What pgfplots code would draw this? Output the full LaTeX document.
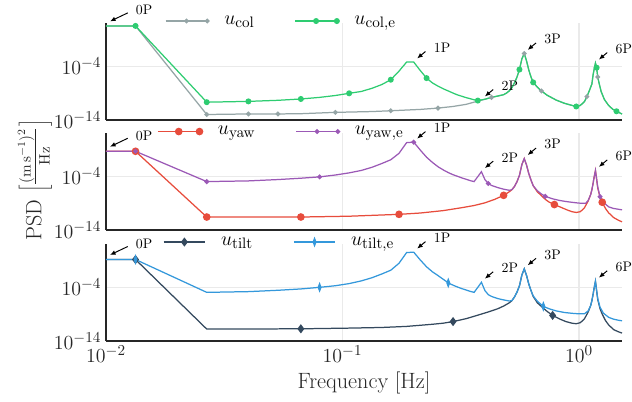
\documentclass[border=0pt]{standalone}
\usepackage{pgfplots}
\pgfplotsset{compat=1.18}
\usetikzlibrary{arrows.meta}
\definecolor{cgray}{HTML}{95A5A6}
\definecolor{cgreen}{HTML}{2ECC71}
\definecolor{cred}{HTML}{E74C3C}
\definecolor{cpurple}{HTML}{9B59B6}
\definecolor{cdark}{HTML}{34495E}
\definecolor{cblue}{HTML}{3498DB}
\definecolor{spine}{HTML}{262626}
\definecolor{gridc}{HTML}{EAEAEA}
\tikzset{ann/.style={-{Latex[length=4pt,width=3.4pt]}, line width=0.7pt, black}}
\pgfplotsset{
  legend image code/.code={\draw[mark repeat=2,mark phase=2,#1] plot coordinates {(0pt,0pt)(15pt,0pt)(30pt,0pt)};},
  every axis/.append style={
    width=372.9pt, height=70pt, scale only axis,
    xmin=0.01, xmax=1.52, ymin=1e-14, ymax=1.26e4,
    xtick={0.01,0.1,1}, ytick={1e-14,1e-4},
    axis x line*=bottom, axis y line*=left,
    axis line style={spine, line width=1.4pt},
    major tick length=0pt, minor tick length=0pt,
    xmajorgrids, ymajorgrids, major grid style={gridc, line width=0.8pt},
    tick label style={font=\fontsize{15}{18}\selectfont, text=spine},
    clip=false,
    legend columns=2,
  },
  every axis legend/.append style={draw=none, fill=none, font=\fontsize{15.5}{18}\selectfont, inner sep=0pt, anchor=west,
      nodes={inner sep=0pt},
      /tikz/every odd column/.append style={column sep=11pt},
      /tikz/every even column/.append style={column sep=29pt}},
}
\newcommand{\annot}[3]{%
  \draw[ann] ([shift={(8.5pt,7.6pt)}]axis cs:#1,#2) -- ([shift={(2.5pt,2.6pt)}]axis cs:#1,#2);
  \node[font=\fontsize{10}{12}\selectfont, text=black] at ([shift={(20.5pt,10.3pt)}]axis cs:#1,#2) {#3};}
\newcommand{\annotz}[1]{%
  \draw[ann] ([shift={(15.7pt,9.4pt)}]axis cs:0.01,#1) -- ([shift={(2.9pt,3.3pt)}]axis cs:0.01,#1);
  \node[font=\fontsize{10}{12}\selectfont, text=black] at ([shift={(27.5pt,11.4pt)}]axis cs:0.01,#1) {0P};}
\begin{document}
\begin{tikzpicture}
% ---------------- panel 1 ----------------
\begin{loglogaxis}[at={(0,0)}, anchor=north west, xticklabels={},
  legend style={at={(0.114,1.02)}}]
\addplot[cgray, line width=0.9pt, mark=*, mark size=1.3pt, mark indices={2,3,4,5,7,9,11,16,26,32,40,47}] table {
0.01 3.55e3
0.01333 3.55e3
0.02667 1e-13
0.04 1.26e-13
0.05333 1.26e-13
0.06667 1.41e-13
0.09333 2.51e-13
0.13333 3.55e-13
0.16 5.01e-13
0.21333 8.91e-13
0.25333 1.58e-12
0.29333 3.16e-12
0.33333 7.94e-12
0.37333 3.16e-11
0.4 7.08e-11
0.42667 1.58e-10
0.45333 2.82e-10
0.48 5.01e-10
0.49333 1e-9
0.50667 2.51e-9
0.52 1e-8
0.53333 7.94e-8
0.54667 1e-6
0.56 2.51e-5
0.57333 2.51e-3
0.58667 2.51e-2
0.6 1e-3
0.61333 2e-5
0.62667 1e-6
0.64 1e-7
0.66667 1.26e-8
0.69333 2.51e-9
0.73333 3.98e-10
0.8 5.01e-11
0.86667 1.26e-11
0.93333 5.01e-12
0.97333 3.16e-12
1.01333 5.01e-12
1.05333 2.51e-11
1.08 2.19e-10
1.10667 3.16e-9
1.13333 5.01e-8
1.14667 2.51e-6
1.16 3.98e-5
1.17333 3.98e-4
1.18667 5.62e-5
1.2 1e-6
1.21333 1e-7
1.24 2e-9
1.28 6.31e-11
1.33333 5.01e-12
1.38667 1e-12
1.44 3.98e-13
1.52 1.26e-13
};
\addlegendentry{$u_{\mathrm{col}}$}
\addplot[cgreen, line width=0.9pt, mark=*, mark size=1.7pt, mark indices={2,3,4,6,9,13,18,29,39,45,52,61,68}] table {
0.01 3.55e3
0.01333 3.55e3
0.02667 2e-11
0.04 2.82e-11
0.05333 4.47e-11
0.06667 7.94e-11
0.08 1.58e-10
0.09333 3.55e-10
0.10667 9.1e-10
0.12 2e-9
0.13333 7.94e-9
0.14667 3.98e-8
0.16 3.16e-7
0.17333 1.26e-5
0.18667 6.31e-4
0.2 6.31e-4
0.21333 1.58e-5
0.22667 6.31e-7
0.24 7.94e-8
0.25333 2e-8
0.26667 6.31e-9
0.28 2.51e-9
0.29333 1e-9
0.30667 4.47e-10
0.32 2.51e-10
0.33333 1.41e-10
0.34667 8.91e-11
0.36 5.62e-11
0.37333 3.98e-11
0.4 7.08e-11
0.42667 1.58e-10
0.45333 2.82e-10
0.48 5.01e-10
0.49333 1e-9
0.50667 2.51e-9
0.52 1e-8
0.53333 7.94e-8
0.54667 1e-6
0.56 2.51e-5
0.57333 2.51e-3
0.58667 2.51e-2
0.6 1e-3
0.61333 2e-5
0.62667 1e-6
0.64 1e-7
0.66667 1.26e-8
0.69333 2.51e-9
0.73333 3.98e-10
0.8 5.01e-11
0.86667 1.26e-11
0.93333 5.01e-12
0.97333 3.16e-12
1.01333 5.01e-12
1.05333 2.51e-11
1.08 2.19e-10
1.10667 3.16e-9
1.13333 5.01e-8
1.14667 2.51e-6
1.16 3.98e-5
1.17333 3.98e-4
1.18667 5.62e-5
1.2 1e-6
1.21333 1e-7
1.24 2e-9
1.28 6.31e-11
1.33333 5.01e-12
1.38667 1e-12
1.44 3.98e-13
1.52 1.26e-13
};
\addlegendentry{$u_{\mathrm{col,e}}$}
\annotz{3.55e3}
\annot{0.2}{6.31e-4}{1P}
\annot{0.38667}{5.01e-11}{2P}
\annot{0.58667}{2.51e-2}{3P}
\annot{1.17333}{3.98e-4}{6P}
\end{loglogaxis}
% ---------------- panel 2 ----------------
\begin{loglogaxis}[at={(0,-79.5pt)}, anchor=north west, xticklabels={},
  legend style={at={(0.099,1.015)}}]
\addplot[cred, line width=0.9pt, mark=*, mark size=2.3pt, mark indices={2,3,4,6,13,29,45}] table {
0.01 4.8
0.01333 4.8
0.02667 2.51e-12
0.06667 2.51e-12
0.10667 3.55e-12
0.17333 7.94e-12
0.21333 1.41e-11
0.26667 3.98e-11
0.32 1.41e-10
0.36 3.55e-10
0.4 1.12e-9
0.44 5.01e-9
0.48 2.82e-8
0.50667 1.26e-7
0.52 3.16e-7
0.53333 1.26e-6
0.54667 1e-5
0.56 1.58e-4
0.57333 1.58e-2
0.58667 0.204
0.6 1.26e-2
0.61333 3.16e-4
0.62667 2e-5
0.64 1.78e-6
0.66667 1.26e-7
0.69333 2.51e-8
0.72 5.01e-9
0.74667 1.58e-9
0.78667 5.37e-10
0.84 1.58e-10
0.89333 5.01e-11
0.93333 2.51e-11
0.97333 1.78e-11
1.01333 2.51e-11
1.05333 1.26e-10
1.09333 2.51e-9
1.12 3.98e-8
1.13333 3.16e-7
1.14667 5.01e-6
1.16 1e-4
1.17333 1.26e-3
1.18667 3.16e-5
1.2 6.31e-7
1.22667 1.26e-8
1.25333 1.45e-9
1.29333 1e-10
1.33333 1.58e-11
1.4 2e-12
1.46667 6.31e-13
1.52 3.16e-13
};
\addlegendentry{$u_{\mathrm{yaw}}$}
\addplot[cpurple, line width=0.9pt, mark=*, mark size=1.3pt, mark indices={2,3,7,16,32,49,64}] table {
0.01 4.8
0.01333 4.8
0.02667 1.05e-5
0.04 1.41e-5
0.05333 2.51e-5
0.06667 4.47e-5
0.08 7.94e-5
0.09333 1.78e-4
0.10667 4.47e-4
0.12 1.26e-3
0.13333 5.01e-3
0.14667 2.51e-2
0.16 0.126
0.17333 2.0
0.18667 200
0.2 245
0.21333 7.94
0.22667 0.372
0.24 3.98e-2
0.25333 6.31e-3
0.26667 1.58e-3
0.28 5.01e-4
0.29333 2e-4
0.30667 1e-4
0.32 5.01e-5
0.33333 2.82e-5
0.34667 1.58e-5
0.36 1.05e-5
0.37333 8.91e-5
0.38667 7.41e-4
0.4 2.51e-5
0.41333 4.57e-6
0.42667 2e-6
0.45333 7.94e-7
0.48 3.98e-7
0.50667 2.51e-7
0.52 3.16e-7
0.53333 1.26e-6
0.54667 1e-5
0.56 1.58e-4
0.57333 1.58e-2
0.58667 0.204
0.6 1.26e-2
0.61333 3.16e-4
0.62667 2e-5
0.64 1.78e-6
0.66667 2e-7
0.69333 5.01e-8
0.72 1.82e-8
0.77333 6.31e-9
0.82667 3.16e-9
0.88 2e-9
0.93333 1.41e-9
1.0 1e-9
1.06667 8.91e-10
1.09333 3.16e-9
1.12 3.98e-8
1.13333 3.16e-7
1.14667 5.01e-6
1.16 1e-4
1.17333 1.26e-3
1.18667 3.16e-5
1.2 1e-6
1.22667 1.58e-8
1.26667 1.58e-9
1.33333 2e-10
1.4 1e-10
1.46667 7.08e-11
1.52 5.5e-11
};
\addlegendentry{$u_{\mathrm{yaw,e}}$}
\annotz{4.8}
\annot{0.2}{245}{1P}
\annot{0.38667}{7.41e-4}{2P}
\annot{0.58667}{0.204}{3P}
\annot{1.17333}{1.26e-3}{6P}
\end{loglogaxis}
% ---------------- panel 3 ----------------
\begin{loglogaxis}[at={(0,-159.7pt)}, anchor=north west,
  xlabel={Frequency [Hz]}, xlabel style={font=\fontsize{16}{19}\selectfont, text=spine},
  legend style={at={(0.110,1.02)}}]
\addplot[cdark, line width=0.9pt, mark=diamond*, mark size=2.6pt, mark indices={2,4,10,30}] table {
0.01 15.8
0.01333 15.8
0.02667 1.58e-12
0.06667 1.78e-12
0.10667 2.4e-12
0.14667 3.16e-12
0.18667 5.01e-12
0.24 1.26e-11
0.26667 2e-11
0.29333 3.98e-11
0.33333 1.41e-10
0.37333 6.31e-10
0.41333 2.51e-9
0.45333 1e-8
0.48 3.16e-8
0.50667 1.26e-7
0.52 3.16e-7
0.53333 1.58e-6
0.54667 1.26e-5
0.56 2e-4
0.57333 2e-2
0.58667 0.282
0.6 1.58e-2
0.61333 3.98e-4
0.62667 2.51e-5
0.64 2e-6
0.66667 1.26e-7
0.70667 1.26e-8
0.73333 3.16e-9
0.77333 5.62e-10
0.82667 1.26e-10
0.88 3.98e-11
0.93333 2e-11
0.97333 1.58e-11
1.01333 2.51e-11
1.05333 1.26e-10
1.09333 2.51e-9
1.12 3.98e-8
1.13333 3.16e-7
1.14667 5.01e-6
1.16 1e-4
1.17333 1.35e-3
1.18667 2.51e-5
1.2 5.01e-7
1.22667 1e-8
1.25333 1e-9
1.29333 6.31e-11
1.33333 1e-11
1.4 1.26e-12
1.46667 5.01e-13
1.52 2.82e-13
};
\addlegendentry{$u_{\mathrm{tilt}}$}
\addplot[cblue, line width=0.9pt, mark=diamond*, mark size=2.6pt, mark options={xscale=0.5}, mark indices={2,7,22,48}] table {
0.01 15.8
0.01333 15.8
0.02667 1.15e-5
0.04 1.58e-5
0.05333 2.82e-5
0.06667 5.01e-5
0.08 1e-4
0.09333 2e-4
0.10667 5.01e-4
0.12 1.58e-3
0.13333 6.31e-3
0.14667 3.16e-2
0.16 0.158
0.17333 3.16
0.18667 316
0.2 372
0.21333 12.6
0.22667 0.676
0.24 7.94e-2
0.25333 1.58e-2
0.26667 3.16e-3
0.28 6.76e-4
0.29333 2.51e-4
0.30667 1.12e-4
0.32 5.62e-5
0.33333 3.16e-5
0.34667 1.78e-5
0.36 1.15e-5
0.37333 1e-4
0.38667 8.71e-4
0.4 2.51e-5
0.41333 4.27e-6
0.42667 2e-6
0.45333 7.94e-7
0.48 4.47e-7
0.50667 2.82e-7
0.52 3.16e-7
0.53333 1.58e-6
0.54667 1.26e-5
0.56 2e-4
0.57333 2e-2
0.58667 0.282
0.6 1.58e-2
0.61333 3.98e-4
0.62667 2.51e-5
0.64 2.51e-6
0.66667 2.51e-7
0.70667 2.75e-8
0.74667 1e-8
0.8 3.98e-9
0.86667 2e-9
0.93333 1.41e-9
1.0 1.12e-9
1.05333 1.12e-9
1.09333 3.98e-9
1.12 3.98e-8
1.13333 3.16e-7
1.14667 5.01e-6
1.16 1e-4
1.17333 1.35e-3
1.18667 2.51e-5
1.2 7.94e-7
1.22667 2e-8
1.26667 1.58e-9
1.33333 2.51e-10
1.4 1.12e-10
1.46667 7.08e-11
1.52 5.62e-11
};
\addlegendentry{$u_{\mathrm{tilt,e}}$}
\annotz{15.8}
\annot{0.2}{372}{1P}
\annot{0.38667}{8.71e-4}{2P}
\annot{0.58667}{0.282}{3P}
\annot{1.17333}{1.35e-3}{6P}
\end{loglogaxis}
\node[rotate=90, font=\fontsize{16}{19}\selectfont, text=spine] at (-51.3pt,-113.5pt)
  {PSD $\left[\frac{(\mathrm{m\,s^{-1}})^2}{\mathrm{Hz}}\right]$};
\pgfresetboundingbox
\path[use as bounding box] (-76.6pt,16.6pt) rectangle (380.1pt,-273.2pt);
\end{tikzpicture}
\end{document}
